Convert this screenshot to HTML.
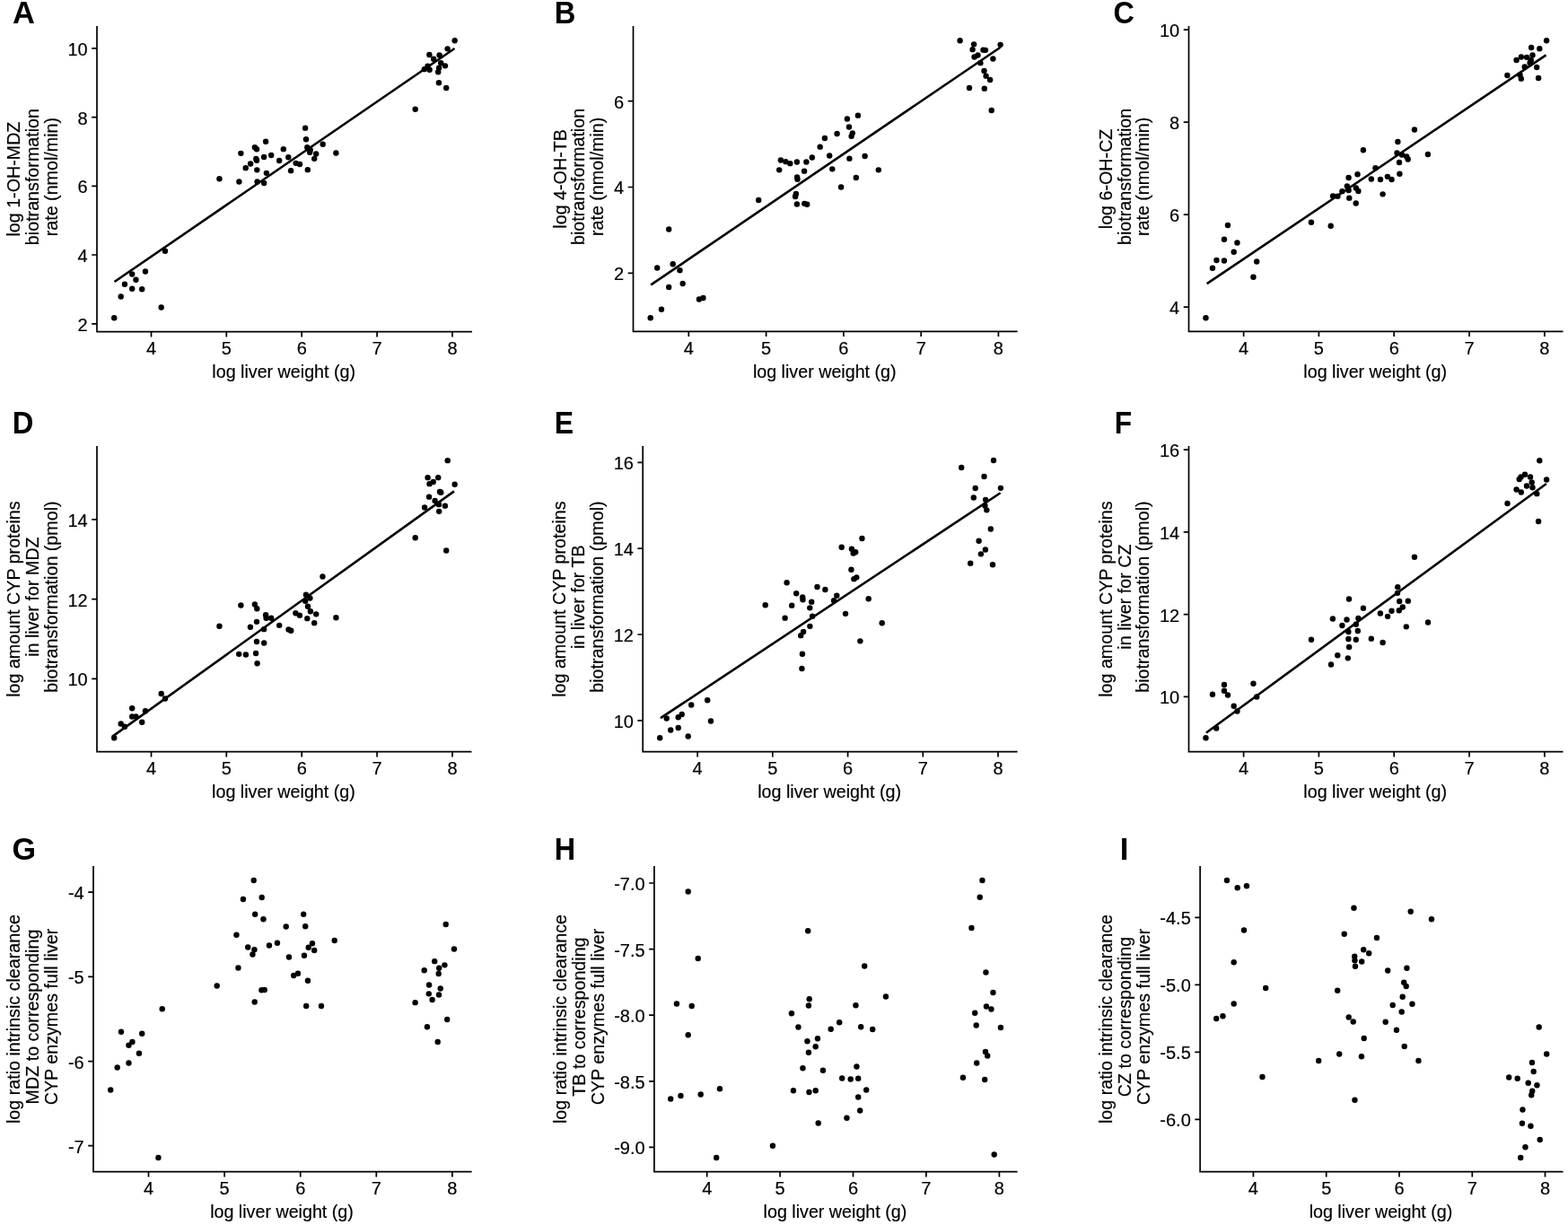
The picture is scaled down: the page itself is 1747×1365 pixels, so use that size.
<!DOCTYPE html>
<html><head><meta charset="utf-8"><title>Figure</title>
<style>
html,body{margin:0;padding:0;background:#fff;}
body{width:1747px;height:1365px;overflow:hidden;}
svg{display:block;}
text{font-family:"Liberation Sans",Arial,sans-serif;font-size:19.7px;fill:#000;stroke:#000;stroke-width:0.18px;}
.tk{font-size:20.0px;}
.lbl{stroke-width:0;font-weight:bold;font-size:34.8px;}
.ax{stroke:#000;stroke-width:1.7;fill:none;stroke-linecap:butt;}
.pt circle{fill:#000;}
.reg{stroke:#000;stroke-width:2.6;stroke-linecap:butt;}
</style></head><body>
<svg width="1747" height="1365" viewBox="0 0 1747 1365">
<rect width="1747" height="1365" fill="#fff"/>
<path class="ax" d="M108 29V369.7H526"/>
<path class="ax" d="M168.5 369.7v5.8M252.3 369.7v5.8M336.2 369.7v5.8M420.1 369.7v5.8M504 369.7v5.8M108 53.8h-5.8M108 130.6h-5.8M108 207.3h-5.8M108 284h-5.8M108 360.8h-5.8"/>
<text class="tk" x="168.5" y="395" text-anchor="middle">4</text>
<text class="tk" x="252.3" y="395" text-anchor="middle">5</text>
<text class="tk" x="336.2" y="395" text-anchor="middle">6</text>
<text class="tk" x="420.1" y="395" text-anchor="middle">7</text>
<text class="tk" x="504" y="395" text-anchor="middle">8</text>
<text class="tk" x="97.7" y="61.7" text-anchor="end">10</text>
<text class="tk" x="97.7" y="138.5" text-anchor="end">8</text>
<text class="tk" x="97.7" y="215.2" text-anchor="end">6</text>
<text class="tk" x="97.7" y="291.9" text-anchor="end">4</text>
<text class="tk" x="97.7" y="368.7" text-anchor="end">2</text>
<text x="316.2" y="420.9" text-anchor="middle">log liver weight (g)</text>
<text x="22.09" y="199.6" text-anchor="middle" transform="rotate(-90 22.09 199.6)">log 1-OH-MDZ</text>
<text x="43.04" y="197.1" text-anchor="middle" transform="rotate(-90 43.04 197.1)">biotransformation</text>
<text x="63.99" y="197.1" text-anchor="middle" transform="rotate(-90 63.99 197.1)">rate (nmol/min)</text>
<g class="pt"><circle cx="127.2" cy="354.2" r="3.2"/><circle cx="134.7" cy="330.45" r="3.2"/><circle cx="138.95" cy="316.7" r="3.2"/><circle cx="147.2" cy="305.45" r="3.2"/><circle cx="151.45" cy="311.7" r="3.2"/><circle cx="147.2" cy="321.7" r="3.2"/><circle cx="158.2" cy="322.2" r="3.2"/><circle cx="161.95" cy="302.45" r="3.2"/><circle cx="179.7" cy="342.45" r="3.2"/><circle cx="183.95" cy="279.7" r="3.2"/><circle cx="244.45" cy="199.2" r="3.2"/><circle cx="268.4" cy="170.85" r="3.2"/><circle cx="283.9" cy="164.15" r="3.2"/><circle cx="286" cy="166.25" r="3.2"/><circle cx="296.1" cy="157.75" r="3.2"/><circle cx="273.7" cy="187.15" r="3.2"/><circle cx="279.1" cy="182.55" r="3.2"/><circle cx="285.3" cy="177.05" r="3.2"/><circle cx="286" cy="178.75" r="3.2"/><circle cx="294.1" cy="175.05" r="3.2"/><circle cx="302.2" cy="173.05" r="3.2"/><circle cx="286.3" cy="189.35" r="3.2"/><circle cx="296.9" cy="192.85" r="3.2"/><circle cx="266.4" cy="202.55" r="3.2"/><circle cx="286.6" cy="202.45" r="3.2"/><circle cx="294.2" cy="203.95" r="3.2"/><circle cx="315.8" cy="166.15" r="3.2"/><circle cx="311.2" cy="178.95" r="3.2"/><circle cx="321.3" cy="175.25" r="3.2"/><circle cx="324.1" cy="190.15" r="3.2"/><circle cx="329.6" cy="181.85" r="3.2"/><circle cx="334" cy="182.95" r="3.2"/><circle cx="340.1" cy="142.65" r="3.2"/><circle cx="341" cy="155.25" r="3.2"/><circle cx="342.3" cy="164.25" r="3.2"/><circle cx="345.7" cy="167.05" r="3.2"/><circle cx="345.2" cy="169.75" r="3.2"/><circle cx="352.2" cy="171.55" r="3.2"/><circle cx="350.2" cy="176.85" r="3.2"/><circle cx="342.8" cy="189.15" r="3.2"/><circle cx="359.7" cy="160.75" r="3.2"/><circle cx="374.4" cy="170.45" r="3.2"/><circle cx="506.7" cy="45.25" r="3.2"/><circle cx="498.6" cy="54.35" r="3.2"/><circle cx="478.4" cy="61.05" r="3.2"/><circle cx="489.6" cy="61.45" r="3.2"/><circle cx="483.1" cy="65.75" r="3.2"/><circle cx="491.2" cy="70.25" r="3.2"/><circle cx="496" cy="73.35" r="3.2"/><circle cx="489.1" cy="75.75" r="3.2"/><circle cx="488.2" cy="80.25" r="3.2"/><circle cx="476.5" cy="73.65" r="3.2"/><circle cx="478.6" cy="77.75" r="3.2"/><circle cx="472.8" cy="77.15" r="3.2"/><circle cx="462.7" cy="121.7" r="3.2"/><circle cx="488.95" cy="92.2" r="3.2"/><circle cx="497.2" cy="97.95" r="3.2"/></g>
<line class="reg" x1="127.5" y1="314.05" x2="506.5" y2="54.05"/>
<text class="lbl" x="0" y="26" transform="translate(14.01 0) scale(0.99 1)">A</text>
<path class="ax" d="M705.5 29V369.3H1133.6"/>
<path class="ax" d="M767.3 369.3v5.8M853.6 369.3v5.8M939.9 369.3v5.8M1026.2 369.3v5.8M1112.4 369.3v5.8M705.5 112.7h-5.8M705.5 208.5h-5.8M705.5 304.4h-5.8"/>
<text class="tk" x="767.3" y="394.6" text-anchor="middle">4</text>
<text class="tk" x="853.6" y="394.6" text-anchor="middle">5</text>
<text class="tk" x="939.9" y="394.6" text-anchor="middle">6</text>
<text class="tk" x="1026.2" y="394.6" text-anchor="middle">7</text>
<text class="tk" x="1112.4" y="394.6" text-anchor="middle">8</text>
<text class="tk" x="695.2" y="120.6" text-anchor="end">6</text>
<text class="tk" x="695.2" y="216.4" text-anchor="end">4</text>
<text class="tk" x="695.2" y="312.3" text-anchor="end">2</text>
<text x="918.75" y="420.5" text-anchor="middle">log liver weight (g)</text>
<text x="630.55" y="199.4" text-anchor="middle" transform="rotate(-90 630.55 199.4)">log 4-OH-TB</text>
<text x="651.5" y="196.9" text-anchor="middle" transform="rotate(-90 651.5 196.9)">biotransformation</text>
<text x="672.45" y="196.9" text-anchor="middle" transform="rotate(-90 672.45 196.9)">rate (nmol/min)</text>
<g class="pt"><circle cx="724.7" cy="354.2" r="3.2"/><circle cx="736.95" cy="344.7" r="3.2"/><circle cx="732.2" cy="298.45" r="3.2"/><circle cx="745.2" cy="255.45" r="3.2"/><circle cx="749.7" cy="294.2" r="3.2"/><circle cx="757.45" cy="301.2" r="3.2"/><circle cx="745.2" cy="319.95" r="3.2"/><circle cx="760.7" cy="315.95" r="3.2"/><circle cx="778.95" cy="333.45" r="3.2"/><circle cx="783.45" cy="331.95" r="3.2"/><circle cx="845.2" cy="222.95" r="3.2"/><circle cx="869.9" cy="178.45" r="3.2"/><circle cx="875.4" cy="180.15" r="3.2"/><circle cx="880.3" cy="182.15" r="3.2"/><circle cx="887.9" cy="180.55" r="3.2"/><circle cx="898.4" cy="180.55" r="3.2"/><circle cx="904.8" cy="175.45" r="3.2"/><circle cx="868.2" cy="189.35" r="3.2"/><circle cx="896.1" cy="190.65" r="3.2"/><circle cx="888.1" cy="197.55" r="3.2"/><circle cx="888.5" cy="199.85" r="3.2"/><circle cx="886.9" cy="216.05" r="3.2"/><circle cx="886.1" cy="218.95" r="3.2"/><circle cx="887.9" cy="227.55" r="3.2"/><circle cx="896.3" cy="226.85" r="3.2"/><circle cx="899.2" cy="227.75" r="3.2"/><circle cx="913.7" cy="163.65" r="3.2"/><circle cx="918.9" cy="154.05" r="3.2"/><circle cx="932.6" cy="148.95" r="3.2"/><circle cx="924.2" cy="173.55" r="3.2"/><circle cx="927.3" cy="188.35" r="3.2"/><circle cx="937.1" cy="208.55" r="3.2"/><circle cx="943.9" cy="132.55" r="3.2"/><circle cx="946" cy="141.55" r="3.2"/><circle cx="949.8" cy="148.35" r="3.2"/><circle cx="948.6" cy="151.85" r="3.2"/><circle cx="946.4" cy="176.65" r="3.2"/><circle cx="953.8" cy="198.05" r="3.2"/><circle cx="955.9" cy="128.65" r="3.2"/><circle cx="963.6" cy="173.95" r="3.2"/><circle cx="978.8" cy="189.35" r="3.2"/><circle cx="1069.6" cy="45.25" r="3.2"/><circle cx="1085.1" cy="49.35" r="3.2"/><circle cx="1083.6" cy="55.15" r="3.2"/><circle cx="1095.5" cy="55.65" r="3.2"/><circle cx="1097.9" cy="55.85" r="3.2"/><circle cx="1114.6" cy="49.85" r="3.2"/><circle cx="1085.6" cy="63.55" r="3.2"/><circle cx="1089.5" cy="61.55" r="3.2"/><circle cx="1092.4" cy="70.15" r="3.2"/><circle cx="1106.4" cy="65.55" r="3.2"/><circle cx="1096.5" cy="79.05" r="3.2"/><circle cx="1098.6" cy="84.65" r="3.2"/><circle cx="1103.1" cy="88.95" r="3.2"/><circle cx="1080" cy="97.95" r="3.2"/><circle cx="1096.8" cy="98.65" r="3.2"/><circle cx="1104.7" cy="122.95" r="3.2"/></g>
<line class="reg" x1="725.2" y1="317.45" x2="1114.6" y2="52.75"/>
<text class="lbl" x="0" y="26" transform="translate(617.83 0) scale(0.94 1)">B</text>
<path class="ax" d="M1324.5 29V369.3H1741.5"/>
<path class="ax" d="M1385.6 369.3v5.8M1469.4 369.3v5.8M1553.2 369.3v5.8M1637 369.3v5.8M1720.9 369.3v5.8M1324.5 33.2h-5.8M1324.5 136.1h-5.8M1324.5 239.1h-5.8M1324.5 342.1h-5.8"/>
<text class="tk" x="1385.6" y="394.6" text-anchor="middle">4</text>
<text class="tk" x="1469.4" y="394.6" text-anchor="middle">5</text>
<text class="tk" x="1553.2" y="394.6" text-anchor="middle">6</text>
<text class="tk" x="1637" y="394.6" text-anchor="middle">7</text>
<text class="tk" x="1720.9" y="394.6" text-anchor="middle">8</text>
<text class="tk" x="1314.2" y="41.1" text-anchor="end">10</text>
<text class="tk" x="1314.2" y="144" text-anchor="end">8</text>
<text class="tk" x="1314.2" y="247" text-anchor="end">6</text>
<text class="tk" x="1314.2" y="350" text-anchor="end">4</text>
<text x="1532.2" y="420.5" text-anchor="middle">log liver weight (g)</text>
<text x="1238.59" y="199.4" text-anchor="middle" transform="rotate(-90 1238.59 199.4)">log 6-OH-CZ</text>
<text x="1259.54" y="196.9" text-anchor="middle" transform="rotate(-90 1259.54 196.9)">biotransformation</text>
<text x="1280.49" y="196.9" text-anchor="middle" transform="rotate(-90 1280.49 196.9)">rate (nmol/min)</text>
<g class="pt"><circle cx="1343.45" cy="354.2" r="3.2"/><circle cx="1350.95" cy="298.7" r="3.2"/><circle cx="1355.45" cy="289.95" r="3.2"/><circle cx="1363.95" cy="290.45" r="3.2"/><circle cx="1363.95" cy="266.7" r="3.2"/><circle cx="1367.95" cy="250.95" r="3.2"/><circle cx="1374.7" cy="280.7" r="3.2"/><circle cx="1378.45" cy="270.45" r="3.2"/><circle cx="1396.45" cy="308.7" r="3.2"/><circle cx="1400.2" cy="291.45" r="3.2"/><circle cx="1460.95" cy="247.7" r="3.2"/><circle cx="1482.7" cy="251.7" r="3.2"/><circle cx="1485.1" cy="218.45" r="3.2"/><circle cx="1490.4" cy="218.65" r="3.2"/><circle cx="1495.4" cy="213.15" r="3.2"/><circle cx="1500.9" cy="207.45" r="3.2"/><circle cx="1502.6" cy="211.95" r="3.2"/><circle cx="1502.6" cy="198.05" r="3.2"/><circle cx="1503.3" cy="220.65" r="3.2"/><circle cx="1510.8" cy="209.55" r="3.2"/><circle cx="1513.4" cy="212.95" r="3.2"/><circle cx="1512.5" cy="194.25" r="3.2"/><circle cx="1510.7" cy="226.45" r="3.2"/><circle cx="1518.9" cy="167.25" r="3.2"/><circle cx="1532.5" cy="187.15" r="3.2"/><circle cx="1527.8" cy="199.45" r="3.2"/><circle cx="1538" cy="200.05" r="3.2"/><circle cx="1540.6" cy="216.35" r="3.2"/><circle cx="1545.9" cy="196.85" r="3.2"/><circle cx="1550.5" cy="200.05" r="3.2"/><circle cx="1557.4" cy="158.05" r="3.2"/><circle cx="1556.5" cy="170.55" r="3.2"/><circle cx="1562" cy="172.45" r="3.2"/><circle cx="1567.2" cy="174.45" r="3.2"/><circle cx="1568.7" cy="177.55" r="3.2"/><circle cx="1559" cy="181.05" r="3.2"/><circle cx="1559.4" cy="193.75" r="3.2"/><circle cx="1590.9" cy="172.05" r="3.2"/><circle cx="1575.95" cy="144.45" r="3.2"/><circle cx="1723.1" cy="45.25" r="3.2"/><circle cx="1706.1" cy="53.05" r="3.2"/><circle cx="1715.3" cy="54.25" r="3.2"/><circle cx="1689.6" cy="66.95" r="3.2"/><circle cx="1694.9" cy="63.45" r="3.2"/><circle cx="1701.1" cy="63.85" r="3.2"/><circle cx="1707.5" cy="61.45" r="3.2"/><circle cx="1705.8" cy="67.15" r="3.2"/><circle cx="1704.6" cy="70.05" r="3.2"/><circle cx="1698.7" cy="74.55" r="3.2"/><circle cx="1712.2" cy="74.95" r="3.2"/><circle cx="1679.4" cy="83.95" r="3.2"/><circle cx="1693.5" cy="83.55" r="3.2"/><circle cx="1694.8" cy="87.65" r="3.2"/><circle cx="1714.1" cy="87.05" r="3.2"/></g>
<line class="reg" x1="1344.7" y1="316.2" x2="1722.5" y2="61.45"/>
<text class="lbl" x="0" y="26" transform="translate(1240.59 0) scale(0.93 1)">C</text>
<path class="ax" d="M108 497V837.7H525.5"/>
<path class="ax" d="M168.5 837.7v5.8M252.3 837.7v5.8M336.2 837.7v5.8M420.1 837.7v5.8M504 837.7v5.8M108 578.8h-5.8M108 667.6h-5.8M108 756.4h-5.8"/>
<text class="tk" x="168.5" y="863" text-anchor="middle">4</text>
<text class="tk" x="252.3" y="863" text-anchor="middle">5</text>
<text class="tk" x="336.2" y="863" text-anchor="middle">6</text>
<text class="tk" x="420.1" y="863" text-anchor="middle">7</text>
<text class="tk" x="504" y="863" text-anchor="middle">8</text>
<text class="tk" x="97.7" y="586.7" text-anchor="end">14</text>
<text class="tk" x="97.7" y="675.5" text-anchor="end">12</text>
<text class="tk" x="97.7" y="764.3" text-anchor="end">10</text>
<text x="315.95" y="888.9" text-anchor="middle">log liver weight (g)</text>
<text x="22.09" y="667.6" text-anchor="middle" transform="rotate(-90 22.09 667.6)">log amount CYP proteins</text>
<text x="43.04" y="665.1" text-anchor="middle" transform="rotate(-90 43.04 665.1)">in liver for MDZ</text>
<text x="63.99" y="665.1" text-anchor="middle" transform="rotate(-90 63.99 665.1)">biotransformation (pmol)</text>
<g class="pt"><circle cx="127.2" cy="822.2" r="3.2"/><circle cx="134.7" cy="806.45" r="3.2"/><circle cx="138.95" cy="809.7" r="3.2"/><circle cx="147.2" cy="789.2" r="3.2"/><circle cx="147.2" cy="798.45" r="3.2"/><circle cx="151.45" cy="798.45" r="3.2"/><circle cx="158.2" cy="804.7" r="3.2"/><circle cx="161.95" cy="792.2" r="3.2"/><circle cx="179.7" cy="772.95" r="3.2"/><circle cx="183.95" cy="778.45" r="3.2"/><circle cx="244.45" cy="697.7" r="3.2"/><circle cx="268.4" cy="674.55" r="3.2"/><circle cx="283.9" cy="673.45" r="3.2"/><circle cx="286.3" cy="678.25" r="3.2"/><circle cx="296.1" cy="685.15" r="3.2"/><circle cx="296.6" cy="688.75" r="3.2"/><circle cx="302.2" cy="688.75" r="3.2"/><circle cx="286" cy="692.85" r="3.2"/><circle cx="278.9" cy="698.75" r="3.2"/><circle cx="294.1" cy="701.15" r="3.2"/><circle cx="311.2" cy="696.85" r="3.2"/><circle cx="321.5" cy="701.45" r="3.2"/><circle cx="324.2" cy="702.75" r="3.2"/><circle cx="286" cy="715.05" r="3.2"/><circle cx="294.2" cy="716.55" r="3.2"/><circle cx="266.2" cy="728.85" r="3.2"/><circle cx="273.9" cy="729.45" r="3.2"/><circle cx="285.1" cy="728.05" r="3.2"/><circle cx="286.6" cy="739.25" r="3.2"/><circle cx="329.4" cy="683.25" r="3.2"/><circle cx="333.9" cy="685.65" r="3.2"/><circle cx="340.9" cy="662.65" r="3.2"/><circle cx="345.4" cy="666.45" r="3.2"/><circle cx="340.2" cy="669.85" r="3.2"/><circle cx="343" cy="675.75" r="3.2"/><circle cx="345.9" cy="681.25" r="3.2"/><circle cx="352.2" cy="684.35" r="3.2"/><circle cx="342.3" cy="689.15" r="3.2"/><circle cx="350.2" cy="694.15" r="3.2"/><circle cx="374.4" cy="688.25" r="3.2"/><circle cx="359.45" cy="642.45" r="3.2"/><circle cx="498.7" cy="513.15" r="3.2"/><circle cx="476.6" cy="532.15" r="3.2"/><circle cx="488.2" cy="532.15" r="3.2"/><circle cx="482.7" cy="536.95" r="3.2"/><circle cx="478.5" cy="539.15" r="3.2"/><circle cx="506.7" cy="539.75" r="3.2"/><circle cx="490" cy="548.05" r="3.2"/><circle cx="491.3" cy="548.75" r="3.2"/><circle cx="478.1" cy="553.65" r="3.2"/><circle cx="484.6" cy="558.05" r="3.2"/><circle cx="489" cy="562.15" r="3.2"/><circle cx="495.9" cy="563.65" r="3.2"/><circle cx="473.1" cy="565.45" r="3.2"/><circle cx="489.2" cy="569.85" r="3.2"/><circle cx="462.7" cy="599.2" r="3.2"/><circle cx="497.2" cy="613.45" r="3.2"/></g>
<line class="reg" x1="125" y1="820.85" x2="506" y2="547.35"/>
<text class="lbl" x="0" y="482.8" transform="translate(13.74 0) scale(0.94 1)">D</text>
<path class="ax" d="M716.2 497V837.7H1133.6"/>
<path class="ax" d="M777.1 837.7v5.8M860.8 837.7v5.8M944.6 837.7v5.8M1028.3 837.7v5.8M1112 837.7v5.8M716.2 515.4h-5.8M716.2 611.2h-5.8M716.2 707h-5.8M716.2 802.8h-5.8"/>
<text class="tk" x="777.1" y="863" text-anchor="middle">4</text>
<text class="tk" x="860.8" y="863" text-anchor="middle">5</text>
<text class="tk" x="944.6" y="863" text-anchor="middle">6</text>
<text class="tk" x="1028.3" y="863" text-anchor="middle">7</text>
<text class="tk" x="1112" y="863" text-anchor="middle">8</text>
<text class="tk" x="705.9" y="523.3" text-anchor="end">16</text>
<text class="tk" x="705.9" y="619.1" text-anchor="end">14</text>
<text class="tk" x="705.9" y="714.9" text-anchor="end">12</text>
<text class="tk" x="705.9" y="810.7" text-anchor="end">10</text>
<text x="924.1" y="888.9" text-anchor="middle">log liver weight (g)</text>
<text x="630.29" y="667.6" text-anchor="middle" transform="rotate(-90 630.29 667.6)">log amount CYP proteins</text>
<text x="651.24" y="665.1" text-anchor="middle" transform="rotate(-90 651.24 665.1)">in liver for TB</text>
<text x="672.19" y="665.1" text-anchor="middle" transform="rotate(-90 672.19 665.1)">biotransformation (pmol)</text>
<g class="pt"><circle cx="735.2" cy="822.2" r="3.2"/><circle cx="747.2" cy="813.45" r="3.2"/><circle cx="742.7" cy="800.45" r="3.2"/><circle cx="755.7" cy="810.95" r="3.2"/><circle cx="755.7" cy="799.2" r="3.2"/><circle cx="759.7" cy="795.95" r="3.2"/><circle cx="766.7" cy="820.45" r="3.2"/><circle cx="770.2" cy="785.45" r="3.2"/><circle cx="788.2" cy="780.2" r="3.2"/><circle cx="791.95" cy="803.45" r="3.2"/><circle cx="852.7" cy="674.2" r="3.2"/><circle cx="876.6" cy="649.25" r="3.2"/><circle cx="887.2" cy="661.25" r="3.2"/><circle cx="894.2" cy="665.35" r="3.2"/><circle cx="894.5" cy="668.25" r="3.2"/><circle cx="904.2" cy="670.65" r="3.2"/><circle cx="882.2" cy="674.65" r="3.2"/><circle cx="902.3" cy="677.35" r="3.2"/><circle cx="874.6" cy="688.65" r="3.2"/><circle cx="905.1" cy="686.75" r="3.2"/><circle cx="902.4" cy="697.85" r="3.2"/><circle cx="895.1" cy="704.05" r="3.2"/><circle cx="892.2" cy="708.15" r="3.2"/><circle cx="910.5" cy="653.95" r="3.2"/><circle cx="919.4" cy="657.05" r="3.2"/><circle cx="932.3" cy="663.65" r="3.2"/><circle cx="929.1" cy="669.15" r="3.2"/><circle cx="942" cy="683.85" r="3.2"/><circle cx="958.4" cy="714.35" r="3.2"/><circle cx="951.4" cy="645.15" r="3.2"/><circle cx="954.3" cy="643.35" r="3.2"/><circle cx="893.95" cy="728.7" r="3.2"/><circle cx="893.45" cy="744.95" r="3.2"/><circle cx="937.7" cy="609.7" r="3.2"/><circle cx="948.95" cy="611.7" r="3.2"/><circle cx="950.7" cy="616.45" r="3.2"/><circle cx="953.2" cy="615.2" r="3.2"/><circle cx="948.45" cy="634.7" r="3.2"/><circle cx="960.45" cy="599.95" r="3.2"/><circle cx="967.7" cy="667.2" r="3.2"/><circle cx="982.7" cy="694.2" r="3.2"/><circle cx="1071.2" cy="520.95" r="3.2"/><circle cx="1107" cy="513.05" r="3.2"/><circle cx="1096.5" cy="530.95" r="3.2"/><circle cx="1086.7" cy="544.05" r="3.2"/><circle cx="1114.9" cy="543.85" r="3.2"/><circle cx="1084.8" cy="554.45" r="3.2"/><circle cx="1098.1" cy="556.85" r="3.2"/><circle cx="1097.4" cy="563.55" r="3.2"/><circle cx="1099.3" cy="568.35" r="3.2"/><circle cx="1103.8" cy="589.45" r="3.2"/><circle cx="1090.6" cy="602.75" r="3.2"/><circle cx="1097.9" cy="612.55" r="3.2"/><circle cx="1092.9" cy="617.35" r="3.2"/><circle cx="1081.2" cy="627.65" r="3.2"/><circle cx="1106" cy="629.25" r="3.2"/></g>
<line class="reg" x1="735.95" y1="800.2" x2="1114.6" y2="549.25"/>
<text class="lbl" x="0" y="482.8" transform="translate(617.83 0) scale(0.92 1)">E</text>
<path class="ax" d="M1324.5 497V837.7H1741.5"/>
<path class="ax" d="M1385.6 837.7v5.8M1469.4 837.7v5.8M1553.2 837.7v5.8M1637 837.7v5.8M1720.9 837.7v5.8M1324.5 501.2h-5.8M1324.5 592.9h-5.8M1324.5 684.6h-5.8M1324.5 776.4h-5.8"/>
<text class="tk" x="1385.6" y="863" text-anchor="middle">4</text>
<text class="tk" x="1469.4" y="863" text-anchor="middle">5</text>
<text class="tk" x="1553.2" y="863" text-anchor="middle">6</text>
<text class="tk" x="1637" y="863" text-anchor="middle">7</text>
<text class="tk" x="1720.9" y="863" text-anchor="middle">8</text>
<text class="tk" x="1314.2" y="509.1" text-anchor="end">16</text>
<text class="tk" x="1314.2" y="600.8" text-anchor="end">14</text>
<text class="tk" x="1314.2" y="692.5" text-anchor="end">12</text>
<text class="tk" x="1314.2" y="784.3" text-anchor="end">10</text>
<text x="1532.2" y="888.9" text-anchor="middle">log liver weight (g)</text>
<text x="1238.59" y="667.6" text-anchor="middle" transform="rotate(-90 1238.59 667.6)">log amount CYP proteins</text>
<text x="1259.54" y="665.1" text-anchor="middle" transform="rotate(-90 1259.54 665.1)">in liver for CZ</text>
<text x="1280.49" y="665.1" text-anchor="middle" transform="rotate(-90 1280.49 665.1)">biotransformation (pmol)</text>
<g class="pt"><circle cx="1343.45" cy="822.2" r="3.2"/><circle cx="1355.2" cy="811.45" r="3.2"/><circle cx="1350.95" cy="773.7" r="3.2"/><circle cx="1363.95" cy="762.95" r="3.2"/><circle cx="1363.95" cy="769.7" r="3.2"/><circle cx="1367.95" cy="774.45" r="3.2"/><circle cx="1374.7" cy="786.7" r="3.2"/><circle cx="1378.45" cy="792.45" r="3.2"/><circle cx="1396.45" cy="761.7" r="3.2"/><circle cx="1400.2" cy="776.45" r="3.2"/><circle cx="1460.95" cy="712.7" r="3.2"/><circle cx="1503" cy="667.55" r="3.2"/><circle cx="1518.9" cy="677.65" r="3.2"/><circle cx="1484.9" cy="689.45" r="3.2"/><circle cx="1500.5" cy="690.55" r="3.2"/><circle cx="1513.4" cy="689.05" r="3.2"/><circle cx="1495.4" cy="697.05" r="3.2"/><circle cx="1510.8" cy="695.65" r="3.2"/><circle cx="1502.4" cy="704.05" r="3.2"/><circle cx="1512.8" cy="702.95" r="3.2"/><circle cx="1502.4" cy="711.95" r="3.2"/><circle cx="1510.8" cy="712.75" r="3.2"/><circle cx="1503.1" cy="721.05" r="3.2"/><circle cx="1490.3" cy="730.25" r="3.2"/><circle cx="1501.8" cy="733.35" r="3.2"/><circle cx="1483" cy="740.45" r="3.2"/><circle cx="1527.8" cy="711.65" r="3.2"/><circle cx="1540.6" cy="715.95" r="3.2"/><circle cx="1537.9" cy="683.55" r="3.2"/><circle cx="1546.1" cy="686.85" r="3.2"/><circle cx="1550.5" cy="680.75" r="3.2"/><circle cx="1557.3" cy="654.25" r="3.2"/><circle cx="1557" cy="660.85" r="3.2"/><circle cx="1559.2" cy="669.95" r="3.2"/><circle cx="1562.8" cy="676.55" r="3.2"/><circle cx="1558.8" cy="680.25" r="3.2"/><circle cx="1568.8" cy="669.65" r="3.2"/><circle cx="1566.8" cy="698.35" r="3.2"/><circle cx="1591" cy="693.55" r="3.2"/><circle cx="1575.95" cy="620.7" r="3.2"/><circle cx="1715.3" cy="513.25" r="3.2"/><circle cx="1699" cy="528.75" r="3.2"/><circle cx="1694.6" cy="531.55" r="3.2"/><circle cx="1692.7" cy="534.05" r="3.2"/><circle cx="1705" cy="531.55" r="3.2"/><circle cx="1706.7" cy="537.45" r="3.2"/><circle cx="1701" cy="541.45" r="3.2"/><circle cx="1707.5" cy="543.25" r="3.2"/><circle cx="1689.6" cy="545.45" r="3.2"/><circle cx="1694.8" cy="548.55" r="3.2"/><circle cx="1712.3" cy="550.15" r="3.2"/><circle cx="1723.1" cy="534.55" r="3.2"/><circle cx="1679.5" cy="561.05" r="3.2"/><circle cx="1714.1" cy="580.95" r="3.2"/></g>
<line class="reg" x1="1343.95" y1="816.45" x2="1722.9" y2="539.05"/>
<text class="lbl" x="0" y="482.8" transform="translate(1241.69 0) scale(0.91 1)">F</text>
<path class="ax" d="M104 965V1305.6H525.6"/>
<path class="ax" d="M165.5 1305.6v5.8M250.1 1305.6v5.8M334.7 1305.6v5.8M419.3 1305.6v5.8M503.9 1305.6v5.8M104 994.2h-5.8M104 1088.4h-5.8M104 1182.6h-5.8M104 1276.7h-5.8"/>
<text class="tk" x="165.5" y="1330.9" text-anchor="middle">4</text>
<text class="tk" x="250.1" y="1330.9" text-anchor="middle">5</text>
<text class="tk" x="334.7" y="1330.9" text-anchor="middle">6</text>
<text class="tk" x="419.3" y="1330.9" text-anchor="middle">7</text>
<text class="tk" x="503.9" y="1330.9" text-anchor="middle">8</text>
<text class="tk" x="93.7" y="1002.1" text-anchor="end">-4</text>
<text class="tk" x="93.7" y="1096.3" text-anchor="end">-5</text>
<text class="tk" x="93.7" y="1190.5" text-anchor="end">-6</text>
<text class="tk" x="93.7" y="1284.6" text-anchor="end">-7</text>
<text x="314" y="1357.1" text-anchor="middle">log liver weight (g)</text>
<text x="22.49" y="1135.55" text-anchor="middle" transform="rotate(-90 22.49 1135.55)">log ratio intrinsic clearance</text>
<text x="43.44" y="1133.05" text-anchor="middle" transform="rotate(-90 43.44 1133.05)">MDZ to corresponding</text>
<text x="64.39" y="1133.05" text-anchor="middle" transform="rotate(-90 64.39 1133.05)">CYP enzymes full liver</text>
<g class="pt"><circle cx="123.2" cy="1214.45" r="3.2"/><circle cx="130.7" cy="1189.45" r="3.2"/><circle cx="134.95" cy="1149.7" r="3.2"/><circle cx="143.45" cy="1184.45" r="3.2"/><circle cx="143.45" cy="1164.7" r="3.2"/><circle cx="147.45" cy="1160.95" r="3.2"/><circle cx="154.95" cy="1173.7" r="3.2"/><circle cx="158.2" cy="1151.7" r="3.2"/><circle cx="176.45" cy="1289.95" r="3.2"/><circle cx="180.7" cy="1124.2" r="3.2"/><circle cx="241.7" cy="1098.45" r="3.2"/><circle cx="263.45" cy="1041.7" r="3.2"/><circle cx="265.45" cy="1078.45" r="3.2"/><circle cx="270.95" cy="1001.95" r="3.2"/><circle cx="276.2" cy="1055.45" r="3.2"/><circle cx="282.7" cy="980.95" r="3.2"/><circle cx="284.2" cy="1018.7" r="3.2"/><circle cx="283.45" cy="1058.2" r="3.2"/><circle cx="281.45" cy="1063.45" r="3.2"/><circle cx="283.7" cy="1116.45" r="3.2"/><circle cx="291.7" cy="999.95" r="3.2"/><circle cx="293.45" cy="1024.2" r="3.2"/><circle cx="291.45" cy="1103.2" r="3.2"/><circle cx="294.7" cy="1102.95" r="3.2"/><circle cx="299.95" cy="1053.45" r="3.2"/><circle cx="308.95" cy="1050.7" r="3.2"/><circle cx="318.7" cy="1032.45" r="3.2"/><circle cx="321.95" cy="1066.45" r="3.2"/><circle cx="327.2" cy="1086.95" r="3.2"/><circle cx="331.95" cy="1084.7" r="3.2"/><circle cx="338.2" cy="1018.7" r="3.2"/><circle cx="340.2" cy="1032.2" r="3.2"/><circle cx="338.95" cy="1064.7" r="3.2"/><circle cx="343.7" cy="1055.7" r="3.2"/><circle cx="347.95" cy="1051.2" r="3.2"/><circle cx="350.2" cy="1058.95" r="3.2"/><circle cx="342.95" cy="1092.7" r="3.2"/><circle cx="341.2" cy="1120.95" r="3.2"/><circle cx="357.95" cy="1120.95" r="3.2"/><circle cx="372.7" cy="1047.95" r="3.2"/><circle cx="484.2" cy="1071.15" r="3.2"/><circle cx="495.4" cy="1075.35" r="3.2"/><circle cx="489.2" cy="1078.75" r="3.2"/><circle cx="472.7" cy="1081.25" r="3.2"/><circle cx="488.7" cy="1084.95" r="3.2"/><circle cx="478.1" cy="1097.55" r="3.2"/><circle cx="490.7" cy="1101.45" r="3.2"/><circle cx="477.8" cy="1107.35" r="3.2"/><circle cx="489" cy="1108.55" r="3.2"/><circle cx="481.6" cy="1114.05" r="3.2"/><circle cx="462.6" cy="1117.15" r="3.2"/><circle cx="475.95" cy="1144.2" r="3.2"/><circle cx="487.7" cy="1160.95" r="3.2"/><circle cx="496.7" cy="1029.95" r="3.2"/><circle cx="498.2" cy="1135.95" r="3.2"/><circle cx="505.95" cy="1057.45" r="3.2"/></g>
<text class="lbl" x="0" y="957.7" transform="translate(13.61 0) scale(0.98 1)">G</text>
<path class="ax" d="M728.9 965V1305.6H1133.6"/>
<path class="ax" d="M787.7 1305.6v5.8M869.1 1305.6v5.8M950.5 1305.6v5.8M1031.9 1305.6v5.8M1113.4 1305.6v5.8M728.9 984h-5.8M728.9 1057.6h-5.8M728.9 1131.1h-5.8M728.9 1204.9h-5.8M728.9 1278.3h-5.8"/>
<text class="tk" x="787.7" y="1330.9" text-anchor="middle">4</text>
<text class="tk" x="869.1" y="1330.9" text-anchor="middle">5</text>
<text class="tk" x="950.5" y="1330.9" text-anchor="middle">6</text>
<text class="tk" x="1031.9" y="1330.9" text-anchor="middle">7</text>
<text class="tk" x="1113.4" y="1330.9" text-anchor="middle">8</text>
<text class="tk" x="718.6" y="991.9" text-anchor="end">-7.0</text>
<text class="tk" x="718.6" y="1065.5" text-anchor="end">-7.5</text>
<text class="tk" x="718.6" y="1139" text-anchor="end">-8.0</text>
<text class="tk" x="718.6" y="1212.8" text-anchor="end">-8.5</text>
<text class="tk" x="718.6" y="1286.2" text-anchor="end">-9.0</text>
<text x="930.45" y="1357.1" text-anchor="middle">log liver weight (g)</text>
<text x="630.96" y="1135.55" text-anchor="middle" transform="rotate(-90 630.96 1135.55)">log ratio intrinsic clearance</text>
<text x="651.91" y="1133.05" text-anchor="middle" transform="rotate(-90 651.91 1133.05)">TB to corresponding</text>
<text x="672.86" y="1133.05" text-anchor="middle" transform="rotate(-90 672.86 1133.05)">CYP enzymes full liver</text>
<g class="pt"><circle cx="747.2" cy="1224.45" r="3.2"/><circle cx="758.45" cy="1220.95" r="3.2"/><circle cx="753.95" cy="1118.45" r="3.2"/><circle cx="766.7" cy="993.45" r="3.2"/><circle cx="766.7" cy="1153.2" r="3.2"/><circle cx="770.7" cy="1120.95" r="3.2"/><circle cx="777.7" cy="1067.95" r="3.2"/><circle cx="780.7" cy="1219.45" r="3.2"/><circle cx="798.2" cy="1289.95" r="3.2"/><circle cx="801.95" cy="1213.2" r="3.2"/><circle cx="860.95" cy="1276.7" r="3.2"/><circle cx="881.95" cy="1129.2" r="3.2"/><circle cx="883.95" cy="1215.2" r="3.2"/><circle cx="889.45" cy="1144.45" r="3.2"/><circle cx="894.45" cy="1190.2" r="3.2"/><circle cx="899.45" cy="1160.2" r="3.2"/><circle cx="900.2" cy="1037.2" r="3.2"/><circle cx="900.95" cy="1172.7" r="3.2"/><circle cx="900.95" cy="1120.45" r="3.2"/><circle cx="901.7" cy="1113.2" r="3.2"/><circle cx="901.45" cy="1216.95" r="3.2"/><circle cx="908.7" cy="1166.2" r="3.2"/><circle cx="908.7" cy="1215.2" r="3.2"/><circle cx="910.95" cy="1157.2" r="3.2"/><circle cx="911.7" cy="1251.45" r="3.2"/><circle cx="916.95" cy="1192.7" r="3.2"/><circle cx="925.7" cy="1146.7" r="3.2"/><circle cx="935.2" cy="1139.2" r="3.2"/><circle cx="938.2" cy="1201.45" r="3.2"/><circle cx="943.45" cy="1245.7" r="3.2"/><circle cx="947.7" cy="1202.45" r="3.2"/><circle cx="953.45" cy="1120.2" r="3.2"/><circle cx="954.45" cy="1188.45" r="3.2"/><circle cx="956.2" cy="1201.7" r="3.2"/><circle cx="956.2" cy="1222.45" r="3.2"/><circle cx="958.2" cy="1237.45" r="3.2"/><circle cx="959.2" cy="1144.2" r="3.2"/><circle cx="963.2" cy="1076.45" r="3.2"/><circle cx="965.2" cy="1214.45" r="3.2"/><circle cx="972.2" cy="1146.95" r="3.2"/><circle cx="986.95" cy="1110.45" r="3.2"/><circle cx="1072.95" cy="1200.7" r="3.2"/><circle cx="1082.45" cy="1033.95" r="3.2"/><circle cx="1086.2" cy="1128.7" r="3.2"/><circle cx="1087.7" cy="1142.45" r="3.2"/><circle cx="1088.2" cy="1184.45" r="3.2"/><circle cx="1091.7" cy="999.7" r="3.2"/><circle cx="1094.45" cy="980.95" r="3.2"/><circle cx="1097.2" cy="1202.95" r="3.2"/><circle cx="1098.45" cy="1083.45" r="3.2"/><circle cx="1097.95" cy="1171.95" r="3.2"/><circle cx="1100.2" cy="1176.45" r="3.2"/><circle cx="1098.95" cy="1121.45" r="3.2"/><circle cx="1104.45" cy="1124.45" r="3.2"/><circle cx="1106.45" cy="1105.95" r="3.2"/><circle cx="1107.7" cy="1286.45" r="3.2"/><circle cx="1114.95" cy="1144.95" r="3.2"/></g>
<text class="lbl" x="0" y="957.7" transform="translate(617.83 0) scale(0.93 1)">H</text>
<path class="ax" d="M1337.1 965V1305.6H1741.5"/>
<path class="ax" d="M1396.4 1305.6v5.8M1477.7 1305.6v5.8M1559 1305.6v5.8M1640.3 1305.6v5.8M1721.5 1305.6v5.8M1337.1 1022.3h-5.8M1337.1 1097.3h-5.8M1337.1 1172.3h-5.8M1337.1 1247.3h-5.8"/>
<text class="tk" x="1396.4" y="1330.9" text-anchor="middle">4</text>
<text class="tk" x="1477.7" y="1330.9" text-anchor="middle">5</text>
<text class="tk" x="1559" y="1330.9" text-anchor="middle">6</text>
<text class="tk" x="1640.3" y="1330.9" text-anchor="middle">7</text>
<text class="tk" x="1721.5" y="1330.9" text-anchor="middle">8</text>
<text class="tk" x="1326.8" y="1030.2" text-anchor="end">-4.5</text>
<text class="tk" x="1326.8" y="1105.2" text-anchor="end">-5.0</text>
<text class="tk" x="1326.8" y="1180.2" text-anchor="end">-5.5</text>
<text class="tk" x="1326.8" y="1255.2" text-anchor="end">-6.0</text>
<text x="1538.5" y="1357.1" text-anchor="middle">log liver weight (g)</text>
<text x="1239.16" y="1135.55" text-anchor="middle" transform="rotate(-90 1239.16 1135.55)">log ratio intrinsic clearance</text>
<text x="1260.11" y="1133.05" text-anchor="middle" transform="rotate(-90 1260.11 1133.05)">CZ to corresponding</text>
<text x="1281.06" y="1133.05" text-anchor="middle" transform="rotate(-90 1281.06 1133.05)">CYP enzymes full liver</text>
<g class="pt"><circle cx="1355.2" cy="1134.95" r="3.2"/><circle cx="1362.45" cy="1132.2" r="3.2"/><circle cx="1366.95" cy="980.95" r="3.2"/><circle cx="1374.7" cy="1072.2" r="3.2"/><circle cx="1374.7" cy="1118.45" r="3.2"/><circle cx="1378.7" cy="989.2" r="3.2"/><circle cx="1385.95" cy="1036.45" r="3.2"/><circle cx="1388.95" cy="987.2" r="3.2"/><circle cx="1406.45" cy="1199.95" r="3.2"/><circle cx="1410.2" cy="1100.95" r="3.2"/><circle cx="1469.2" cy="1181.95" r="3.2"/><circle cx="1490.2" cy="1103.7" r="3.2"/><circle cx="1492.2" cy="1174.45" r="3.2"/><circle cx="1497.7" cy="1040.7" r="3.2"/><circle cx="1502.7" cy="1133.45" r="3.2"/><circle cx="1507.7" cy="1138.45" r="3.2"/><circle cx="1508.45" cy="1011.7" r="3.2"/><circle cx="1509.2" cy="1065.7" r="3.2"/><circle cx="1509.45" cy="1070.2" r="3.2"/><circle cx="1509.95" cy="1076.7" r="3.2"/><circle cx="1509.45" cy="1225.7" r="3.2"/><circle cx="1517.2" cy="1071.45" r="3.2"/><circle cx="1516.95" cy="1177.2" r="3.2"/><circle cx="1519.2" cy="1058.2" r="3.2"/><circle cx="1519.7" cy="1156.95" r="3.2"/><circle cx="1525.2" cy="1062.2" r="3.2"/><circle cx="1533.95" cy="1044.95" r="3.2"/><circle cx="1543.7" cy="1138.7" r="3.2"/><circle cx="1546.2" cy="1081.45" r="3.2"/><circle cx="1551.7" cy="1119.95" r="3.2"/><circle cx="1555.95" cy="1147.7" r="3.2"/><circle cx="1561.7" cy="1127.45" r="3.2"/><circle cx="1562.7" cy="1110.7" r="3.2"/><circle cx="1564.2" cy="1094.7" r="3.2"/><circle cx="1566.7" cy="1098.95" r="3.2"/><circle cx="1564.7" cy="1165.95" r="3.2"/><circle cx="1567.45" cy="1078.7" r="3.2"/><circle cx="1571.7" cy="1015.7" r="3.2"/><circle cx="1573.45" cy="1118.7" r="3.2"/><circle cx="1580.45" cy="1181.95" r="3.2"/><circle cx="1594.95" cy="1024.2" r="3.2"/><circle cx="1681.2" cy="1200.45" r="3.2"/><circle cx="1690.7" cy="1201.7" r="3.2"/><circle cx="1694.2" cy="1289.95" r="3.2"/><circle cx="1696.45" cy="1236.45" r="3.2"/><circle cx="1695.95" cy="1251.7" r="3.2"/><circle cx="1699.45" cy="1278.2" r="3.2"/><circle cx="1702.7" cy="1206.7" r="3.2"/><circle cx="1705.45" cy="1254.7" r="3.2"/><circle cx="1706.2" cy="1220.2" r="3.2"/><circle cx="1707.2" cy="1215.7" r="3.2"/><circle cx="1706.95" cy="1183.95" r="3.2"/><circle cx="1708.7" cy="1193.95" r="3.2"/><circle cx="1712.45" cy="1209.2" r="3.2"/><circle cx="1714.7" cy="1144.45" r="3.2"/><circle cx="1715.7" cy="1269.95" r="3.2"/><circle cx="1723.2" cy="1174.45" r="3.2"/></g>
<text class="lbl" x="0" y="957.7" transform="translate(1247.7 0) scale(1 1)">I</text>
</svg>
</body></html>
